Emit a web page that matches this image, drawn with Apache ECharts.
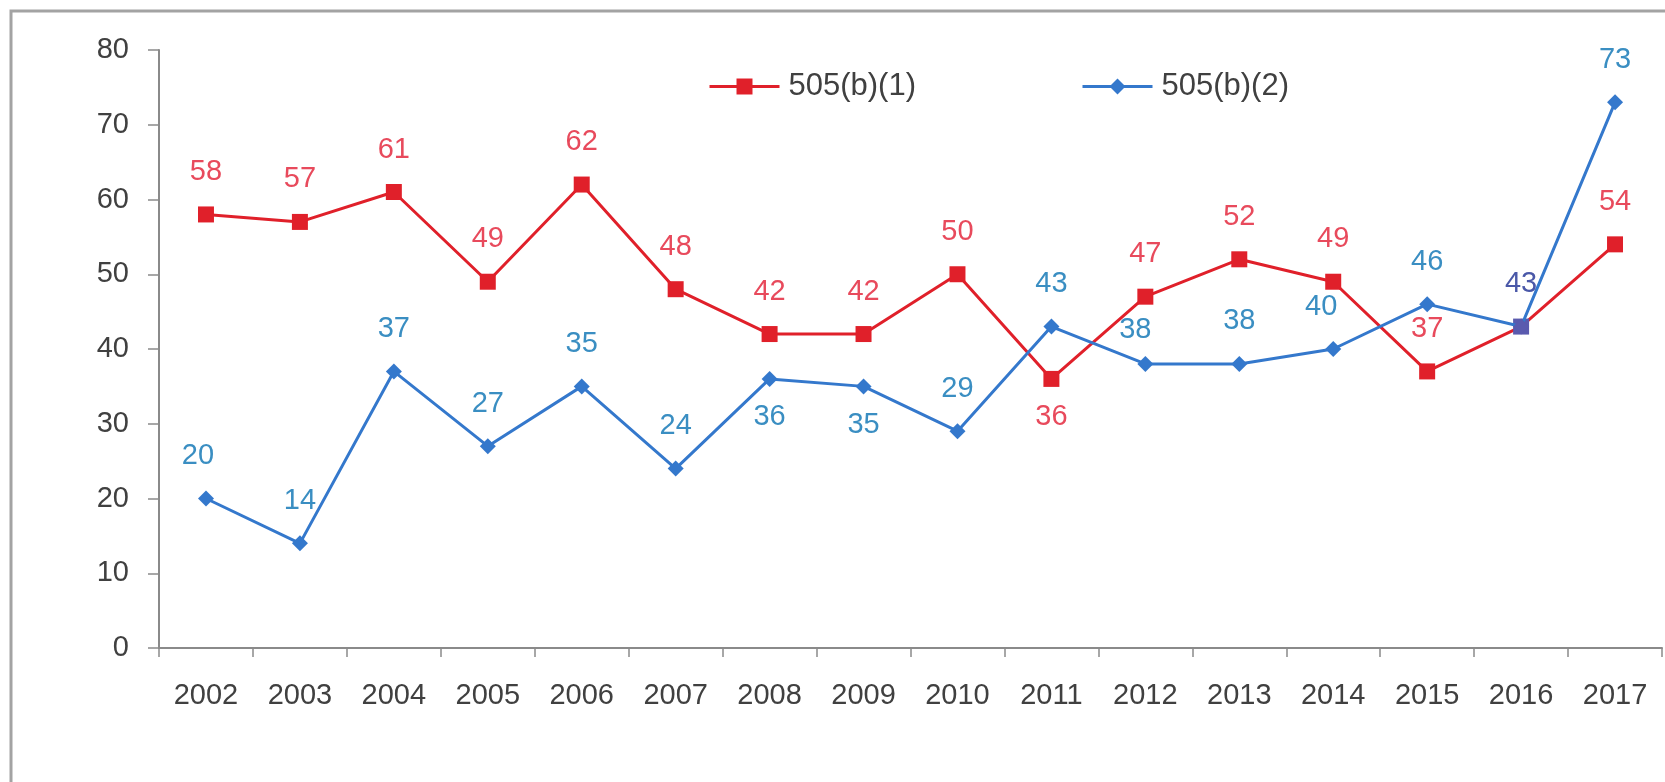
<!DOCTYPE html>
<html>
<head>
<meta charset="utf-8">
<script src="https://cdn.jsdelivr.net/npm/echarts@6/dist/echarts.min.js"></script>
<style>
html,body{margin:0;padding:0;background:#fff;}
#chart{width:1665px;height:782px;}
</style>
</head>
<body>
<div id="chart"></div>
<script>
const years = ['2002','2003','2004','2005','2006','2007','2008','2009','2010','2011','2012','2013','2014','2015','2016','2017'];
const seriesB1 = [58,57,61,49,62,48,42,42,50,36,47,52,49,37,43,54];
const seriesB2 = [20,14,37,27,35,24,36,35,29,43,38,38,40,46,43,73];
const yTicks = [0,10,20,30,40,50,60,70,80];
const nameB1 = '505(b)(1)';
const nameB2 = '505(b)(2)';

// label placement per point (style choice, not data)
const b1Below = ['2011'];
const b1Hidden = ['2016'];
const b2Below = ['2008','2009'];
const b2Offsets = {'2002':[-8,0], '2012':[-10,9], '2014':[-12,0]};
const overlapYear = '2016';

const RED = '#E0202A', RED_LBL = '#E84A5C';
const BLUE = '#3478CC', BLUE_LBL = '#3A8EC2';
const PURPLE = '#5A5AAE';
const FONT = 'Liberation Sans, Arial, sans-serif';

const chart = echarts.init(document.getElementById('chart'));

function b1Data(){
  return seriesB1.map((v,i)=>{
    const y = years[i];
    const below = b1Below.includes(y);
    const d = {value:v, label:{show:!b1Hidden.includes(y), position: below?'bottom':'top', distance: below?16:20}};
    if (y===overlapYear) d.itemStyle = {color:PURPLE};
    return d;
  });
}
function b2Data(){
  return seriesB2.map((v,i)=>{
    const y = years[i];
    const below = b2Below.includes(y);
    const lbl = {position: below?'bottom':'top', distance: below?16:20};
    if (b2Offsets[y]) lbl.offset = b2Offsets[y];
    const d = {value:v, label:lbl};
    if (y===overlapYear){ lbl.color = '#4A58A8'; d.itemStyle = {color:PURPLE}; }
    return d;
  });
}

chart.setOption({
  backgroundColor:'#ffffff',
  animation:false,
  graphic:[{
    type:'rect', shape:{x:11,y:11,width:1720,height:820},
    style:{fill:'none', stroke:'#a3a3a3', lineWidth:3}, silent:true, z:-1
  }],
  legend:[{
    data:[nameB1], left:703, top:66, itemWidth:70, itemHeight:20, itemGap:10,
    lineStyle:{width:3},
    textStyle:{fontFamily:FONT, fontSize:31, color:'#404040', padding:[0,0,0,4]}
  },{
    data:[nameB2], left:1076, top:66, itemWidth:70, itemHeight:20,
    lineStyle:{width:3},
    textStyle:{fontFamily:FONT, fontSize:31, color:'#404040', padding:[0,0,0,4]}
  }],
  grid:{left:159, right:3, top:50, bottom:134, containLabel:false},
  xAxis:{
    type:'category', data:years, boundaryGap:true,
    axisLine:{lineStyle:{color:'#8a8a8a', width:2}},
    axisTick:{show:true, length:9, lineStyle:{color:'#8a8a8a', width:1.5}},
    axisLabel:{fontFamily:FONT, fontSize:29, color:'#404040', margin:33}
  },
  yAxis:{
    type:'value', min:yTicks[0], max:yTicks[yTicks.length-1], interval:10,
    splitLine:{show:false},
    axisLine:{show:true, lineStyle:{color:'#8a8a8a', width:2}},
    axisTick:{show:true, length:11, lineStyle:{color:'#8a8a8a', width:1.5}},
    axisLabel:{fontFamily:FONT, fontSize:29, color:'#404040', margin:30}
  },
  series:[{
    name:nameB1, type:'line', data:b1Data(),
    symbol:'rect', symbolSize:16,
    lineStyle:{color:RED, width:3}, itemStyle:{color:RED},
    label:{show:true, fontFamily:FONT, fontSize:29, color:RED_LBL},
    z:2
  },{
    name:nameB2, type:'line', data:b2Data(),
    symbol:'diamond', symbolSize:16,
    lineStyle:{color:BLUE, width:3}, itemStyle:{color:BLUE},
    label:{show:true, fontFamily:FONT, fontSize:29, color:BLUE_LBL},
    z:3
  }]
});
</script>
</body>
</html>
